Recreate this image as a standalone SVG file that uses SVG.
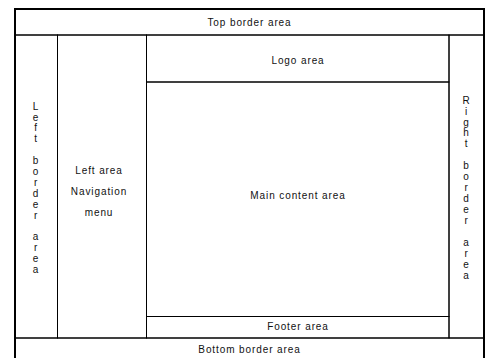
<svg xmlns="http://www.w3.org/2000/svg" width="490" height="358" viewBox="0 0 490 358">
<style>
.box{fill:none;stroke:#000;stroke-width:1}
.outer{fill:none;stroke:#000;stroke-width:2}
text{font-family:"Liberation Sans",Arial,sans-serif;font-size:10px;letter-spacing:0.9px;fill:#111;text-anchor:middle}
</style>
<rect x="0" y="0" width="490" height="358" fill="#fff"/>
<g id="top-border">
<rect class="box" x="15" y="9" width="469" height="26"/>
<text x="249.5" y="26">Top border area</text>
</g>
<g id="left-border">
<rect class="box" x="15" y="35" width="42.5" height="303"/>
<text x="36" y="109.6"><tspan x="36">L</tspan><tspan x="36" dy="10.9">e</tspan><tspan x="36" dy="10.9">f</tspan><tspan x="36" dy="10.9">t</tspan><tspan x="36" dy="21.8">b</tspan><tspan x="36" dy="10.9">o</tspan><tspan x="36" dy="10.9">r</tspan><tspan x="36" dy="10.9">d</tspan><tspan x="36" dy="10.9">e</tspan><tspan x="36" dy="10.9">r</tspan><tspan x="36" dy="21.8">a</tspan><tspan x="36" dy="10.9">r</tspan><tspan x="36" dy="10.9">e</tspan><tspan x="36" dy="10.9">a</tspan></text>
</g>
<g id="left-area">
<rect class="box" x="57.5" y="35" width="89" height="303"/>
<text x="99" y="173.5">Left area</text>
<text x="99" y="194.5">Navigation</text>
<text x="99" y="215.5">menu</text>
</g>
<g id="logo-area">
<rect class="box" x="146.5" y="35" width="302.5" height="47"/>
<text x="298" y="63.5">Logo area</text>
</g>
<g id="main-content">
<rect class="box" x="146.5" y="82" width="302.5" height="234.5"/>
<text x="298" y="199">Main content area</text>
</g>
<g id="footer-area">
<rect class="box" x="146.5" y="316.5" width="302.5" height="21.5"/>
<text x="298" y="330">Footer area</text>
</g>
<g id="right-border">
<rect class="box" x="449" y="35" width="35" height="303"/>
<text x="466.5" y="103.6"><tspan x="466.5">R</tspan><tspan x="466.5" dy="10.95">i</tspan><tspan x="466.5" dy="10.95">g</tspan><tspan x="466.5" dy="10.95">h</tspan><tspan x="466.5" dy="10.95">t</tspan><tspan x="466.5" dy="21.9">b</tspan><tspan x="466.5" dy="10.95">o</tspan><tspan x="466.5" dy="10.95">r</tspan><tspan x="466.5" dy="10.95">d</tspan><tspan x="466.5" dy="10.95">e</tspan><tspan x="466.5" dy="10.95">r</tspan><tspan x="466.5" dy="21.9">a</tspan><tspan x="466.5" dy="10.95">r</tspan><tspan x="466.5" dy="10.95">e</tspan><tspan x="466.5" dy="10.95">a</tspan></text>
</g>
<g id="bottom-border">
<rect class="box" x="15" y="338" width="469" height="31"/>
<text x="249.5" y="353">Bottom border area</text>
</g>
<g id="frame">
<rect class="outer" x="15" y="9" width="469" height="360"/>
</g>
<g id="connectors"/>
</svg>
